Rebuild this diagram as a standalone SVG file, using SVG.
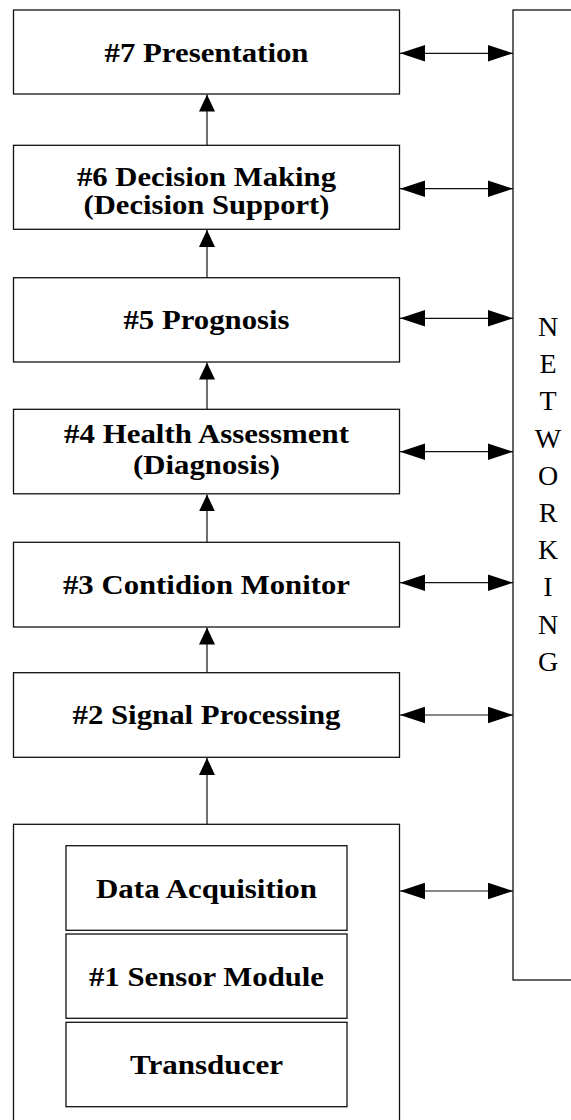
<svg xmlns="http://www.w3.org/2000/svg" width="571" height="1120" viewBox="0 0 571 1120">
<style>
.box{fill:#fff;stroke:#111;stroke-width:1.3}
.lbl{font-family:"Liberation Serif","Times New Roman",serif;font-weight:bold;font-size:28px;fill:#000;text-anchor:middle}
.net{font-family:"Liberation Serif","Times New Roman",serif;font-size:28px;fill:#000;text-anchor:middle}
.h{stroke:#111;stroke-width:1.2;fill:none;marker-start:url(#ha);marker-end:url(#ha)}
.v{stroke:#111;stroke-width:1.2;fill:none;marker-end:url(#va)}
</style>
<defs>
<marker id="ha" markerUnits="userSpaceOnUse" viewBox="0 -8.5 25 17" refX="25" refY="0" markerWidth="25" markerHeight="17" orient="auto-start-reverse">
<path d="M0,-8.3 L25,0 L0,8.3 z" fill="#000"/>
</marker>
<marker id="va" markerUnits="userSpaceOnUse" viewBox="0 -8.5 17 17" refX="17" refY="0" markerWidth="17" markerHeight="17" orient="auto">
<path d="M0,-8 L17,0 L0,8 z" fill="#000"/>
</marker>
</defs>
<rect width="571" height="1120" fill="#fff"/>
<g id="networking">
<rect class="box" x="513" y="10" width="80" height="970"/>
<text class="net"><tspan x="548" y="336">N</tspan><tspan x="548" y="373.2">E</tspan><tspan x="548" y="410.4">T</tspan><tspan x="548" y="447.6">W</tspan><tspan x="548" y="484.8">O</tspan><tspan x="548" y="522">R</tspan><tspan x="548" y="559.2">K</tspan><tspan x="548" y="596.4">I</tspan><tspan x="548" y="633.6">N</tspan><tspan x="548" y="670.8">G</tspan></text>
</g>
<g id="n7">
<rect class="box" x="13.5" y="10" width="386" height="84"/>
<text class="lbl" x="206.5" y="61.7" textLength="204" lengthAdjust="spacingAndGlyphs">#7 Presentation</text>
</g>
<g id="n6">
<rect class="box" x="13.5" y="145.3" width="386" height="84"/>
<text class="lbl" x="206.5" y="185.5" textLength="259" lengthAdjust="spacingAndGlyphs">#6 Decision Making</text>
<text class="lbl" x="206.5" y="214.3" textLength="246" lengthAdjust="spacingAndGlyphs">(Decision Support)</text>
</g>
<g id="n5">
<rect class="box" x="13.5" y="277.7" width="386" height="84.3"/>
<text class="lbl" x="206.5" y="329" textLength="166" lengthAdjust="spacingAndGlyphs">#5 Prognosis</text>
</g>
<g id="n4">
<rect class="box" x="13.5" y="409.3" width="386" height="84.5"/>
<text class="lbl" x="206.5" y="443.3" textLength="285" lengthAdjust="spacingAndGlyphs">#4 Health Assessment</text>
<text class="lbl" x="206.5" y="474" textLength="147" lengthAdjust="spacingAndGlyphs">(Diagnosis)</text>
</g>
<g id="n3">
<rect class="box" x="13.5" y="542.3" width="386" height="84.7"/>
<text class="lbl" x="206.5" y="593.5" textLength="287" lengthAdjust="spacingAndGlyphs">#3 Contidion Monitor</text>
</g>
<g id="n2">
<rect class="box" x="13.5" y="672.7" width="386" height="84.6"/>
<text class="lbl" x="206.5" y="724" textLength="268" lengthAdjust="spacingAndGlyphs">#2 Signal Processing</text>
</g>
<g id="n1">
<rect class="box" x="13.5" y="824.3" width="386" height="310"/>
<g id="n1-da">
<rect class="box" x="66" y="845.7" width="281" height="84.6"/>
<text class="lbl" x="206.5" y="897.7" textLength="221" lengthAdjust="spacingAndGlyphs">Data Acquisition</text>
</g>
<g id="n1-sm">
<rect class="box" x="66" y="934" width="281" height="84.3"/>
<text class="lbl" x="206.5" y="985.7" textLength="235" lengthAdjust="spacingAndGlyphs">#1 Sensor Module</text>
</g>
<g id="n1-tr">
<rect class="box" x="66" y="1022.3" width="281" height="84.4"/>
<text class="lbl" x="206.5" y="1074" textLength="153" lengthAdjust="spacingAndGlyphs">Transducer</text>
</g>
</g>
<g id="connectors">
<line class="v" x1="207" y1="145.3" x2="207" y2="94.6"/>
<line class="v" x1="207" y1="277.7" x2="207" y2="229.9"/>
<line class="v" x1="207" y1="409.3" x2="207" y2="362.6"/>
<line class="v" x1="207" y1="542.3" x2="207" y2="494.4"/>
<line class="v" x1="207" y1="672.7" x2="207" y2="627.6"/>
<line class="v" x1="207" y1="824.3" x2="207" y2="757.9"/>
<line class="h" x1="400" y1="53.3" x2="513" y2="53.3"/>
<line class="h" x1="400" y1="188.7" x2="513" y2="188.7"/>
<line class="h" x1="400" y1="318.3" x2="513" y2="318.3"/>
<line class="h" x1="400" y1="451.7" x2="513" y2="451.7"/>
<line class="h" x1="400" y1="582.7" x2="513" y2="582.7"/>
<line class="h" x1="400" y1="715" x2="513" y2="715"/>
<line class="h" x1="400" y1="891" x2="513" y2="891"/>
</g>
</svg>
